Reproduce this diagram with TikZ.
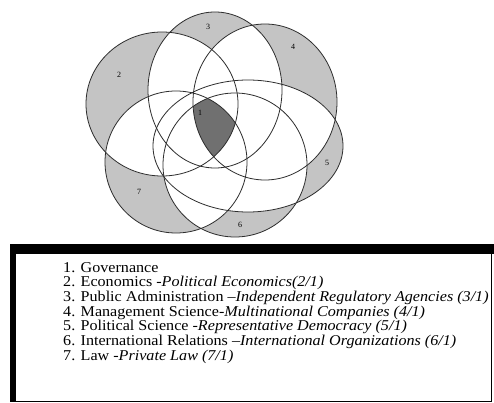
\documentclass[tikz,border=0pt]{standalone}
\usepackage{fontspec}
\setmainfont{Liberation Serif}
\newfontfamily\legendfont[FakeStretch=1.075]{Liberation Serif}
\definecolor{lobe}{RGB}{196,196,196}
\definecolor{core}{RGB}{112,112,112}
\definecolor{edge}{RGB}{45,45,45}
\begin{document}
\begin{tikzpicture}[x=1pt,y=-1pt,
  outline/.style={draw=edge, line width=0.8pt},
  num/.style={font=\fontsize{8}{8}\selectfont, inner sep=0pt},
  legend/.style={font=\legendfont\fontsize{15}{15}\selectfont, anchor=base west, inner sep=0pt}]
\useasboundingbox (0,0) rectangle (494,403);
\fill[white] (0,0) rectangle (494,403);
\def\SB{(162,104) ellipse [x radius=76pt, y radius=72pt]}
\def\SC{(215,90) ellipse [x radius=67pt, y radius=78pt]}
\def\SD{(265,102) ellipse [x radius=72pt, y radius=78pt]}
\def\SE{(248,146) ellipse [x radius=95pt, y radius=66pt]}
\def\SF{(235,165) ellipse [x radius=72pt, y radius=72pt]}
\def\SG{(176,162) ellipse [x radius=71pt, y radius=71pt]}
\newcommand\pairwhite[2]{\begin{scope}\clip #1;\fill[white] #2;\end{scope}}
% lobes
\fill[lobe] \SB; \fill[lobe] \SC; \fill[lobe] \SD; \fill[lobe] \SE; \fill[lobe] \SF; \fill[lobe] \SG;
% overlaps white
\pairwhite{\SB}{\SC}\pairwhite{\SB}{\SD}\pairwhite{\SB}{\SE}\pairwhite{\SB}{\SF}\pairwhite{\SB}{\SG}
\pairwhite{\SC}{\SD}\pairwhite{\SC}{\SE}\pairwhite{\SC}{\SF}\pairwhite{\SC}{\SG}
\pairwhite{\SD}{\SE}\pairwhite{\SD}{\SF}\pairwhite{\SD}{\SG}
\pairwhite{\SE}{\SF}\pairwhite{\SE}{\SG}
\pairwhite{\SF}{\SG}
% core
\begin{scope}
\clip \SB; \clip \SC; \clip \SD; \clip \SE; \clip \SF;
\fill[core] \SG;
\end{scope}
% outlines
\draw[outline] \SB; \draw[outline] \SC; \draw[outline] \SD;
\draw[outline] \SE; \draw[outline] \SF; \draw[outline] \SG;
% numbers
\node[num] (n1) at (200,113) {1};
\node[num] (n2) at (119,75) {2};
\node[num] (n3) at (208,27) {3};
\node[num] (n4) at (293,47) {4};
\node[num] (n5) at (327,163) {5};
\node[num] (n6) at (240,225) {6};
\node[num] (n7) at (139,192) {7};
% legend box
\draw[black, line width=1pt] (10,246) rectangle (491,401);
\fill[black] (10,244) rectangle (494,254);
\fill[black] (10,244) rectangle (16,401);
\node[legend] (l1) at (63,272) {1. Governance};
\node[legend] (l2) at (63,286.7) {2. Economics -\textit{Political Economics(2/1)}};
\node[legend] (l3) at (63,301.3) {3. Public Administration –\textit{Independent Regulatory Agencies (3/1)}};
\node[legend] (l4) at (63,316) {4. Management Science-\textit{Multinational Companies (4/1)}};
\node[legend] (l5) at (63,330.7) {5. Political Science -\textit{Representative Democracy (5/1)}};
\node[legend] (l6) at (63,345.3) {6. International Relations –\textit{International Organizations (6/1)}};
\node[legend] (l7) at (63,360) {7. Law -\textit{Private Law (7/1)}};
\end{tikzpicture}
\end{document}
